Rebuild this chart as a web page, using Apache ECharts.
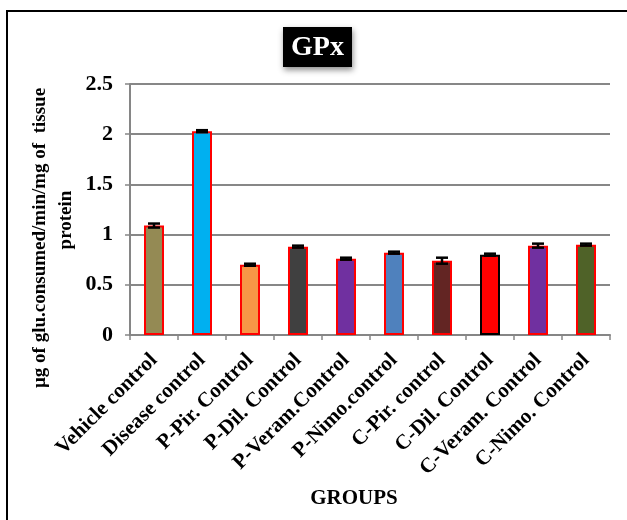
<!DOCTYPE html>
<html>
<head>
<meta charset="utf-8">
<script src="https://cdn.jsdelivr.net/npm/echarts@6/dist/echarts.min.js"></script>
<style>
  html, body { margin: 0; padding: 0; background: #fff; }
  #chart { width: 627px; height: 520px; }
</style>
</head>
<body>
<div id="chart"></div>
<script>
const groups = [
  'Vehicle control', 'Disease control', 'P-Pir. Control', 'P-Dil. Control', 'P-Veram.Control',
  'P-Nimo.control', 'C-Pir. control', 'C-Dil. Control', 'C-Veram. Control', 'C-Nimo. Control'
]
const gpxValues = [1.09, 2.03, 0.70, 0.88, 0.76, 0.82, 0.74, 0.80, 0.89, 0.90]
const gpxErrors = [0.02, 0.01, 0.01, 0.01, 0.01, 0.01, 0.03, 0.01, 0.02, 0.01]
const barColors = ['#948A54', '#00B0F0', '#F79646', '#404040', '#7030A0',
  '#4F81BD', '#632523', '#FF0000', '#7030A0', '#4F6228']
const borderColors = ['#FF0000', '#FF0000', '#FF0000', '#FF0000', '#FF0000',
  '#FF0000', '#FF0000', '#000000', '#FF0000', '#FF0000']
const yTicks = [0, 0.5, 1, 1.5, 2, 2.5]

const serif = '"Liberation Serif", "Times New Roman", serif'

const chart = echarts.init(document.getElementById('chart'))

const errorData = gpxValues.map((v, i) => [i, v - gpxErrors[i], v + gpxErrors[i]])

chart.setOption({
  animation: false,
  grid: { left: 130, right: 17, top: 84, bottom: 185 },
  graphic: [
    {
      type: 'rect',
      shape: { x: 7, y: 11, width: 640, height: 530 },
      style: { fill: 'none', stroke: '#000', lineWidth: 2 },
      silent: true
    },
    {
      type: 'rect',
      shape: { x: 283, y: 27, width: 69, height: 40 },
      style: {
        fill: '#000',
        shadowBlur: 6,
        shadowOffsetX: 1,
        shadowOffsetY: 3,
        shadowColor: 'rgba(0,0,0,0.45)'
      },
      z: 10
    },
    {
      type: 'text',
      x: 317.5,
      y: 48,
      style: {
        text: 'GPx',
        fill: '#fff',
        font: 'bold 28px ' + serif,
        align: 'center',
        verticalAlign: 'middle'
      },
      z: 11
    },
    {
      type: 'text',
      x: 40,
      y: 238,
      rotation: Math.PI / 2,
      style: {
        text: 'µg of glu.consumed/min/mg of  tissue',
        fill: '#000',
        font: 'bold 19px ' + serif,
        align: 'center',
        verticalAlign: 'middle'
      }
    },
    {
      type: 'text',
      x: 66,
      y: 220,
      rotation: Math.PI / 2,
      style: {
        text: 'protein',
        fill: '#000',
        font: 'bold 19px ' + serif,
        align: 'center',
        verticalAlign: 'middle'
      }
    },
    {
      type: 'text',
      x: 354,
      y: 499,
      style: {
        text: 'GROUPS',
        fill: '#000',
        font: 'bold 21px ' + serif,
        align: 'center',
        verticalAlign: 'middle'
      }
    }
  ],
  xAxis: {
    type: 'category',
    data: groups,
    axisLine: { lineStyle: { color: '#868686', width: 2 } },
    axisTick: { show: true, length: 5, lineStyle: { color: '#868686', width: 1.5 } },
    axisLabel: {
      interval: 0,
      rotate: 45,
      margin: 22,
      color: '#000',
      fontFamily: serif,
      fontWeight: 'bold',
      fontSize: 21
    }
  },
  yAxis: {
    type: 'value',
    min: 0,
    max: 2.5,
    interval: 0.5,
    axisLine: { show: true, lineStyle: { color: '#868686', width: 2 } },
    axisTick: { show: true, length: 5, lineStyle: { color: '#868686', width: 1.5 } },
    splitLine: { show: true, lineStyle: { color: '#878787', width: 2 } },
    axisLabel: {
      margin: 17,
      color: '#000',
      fontFamily: serif,
      fontWeight: 'bold',
      fontSize: 22,
      formatter: (v) => (yTicks.includes(v) ? String(v) : '')
    }
  },
  series: [
    {
      type: 'bar',
      barWidth: 20,
      data: gpxValues.map((v, i) => ({
        value: v,
        itemStyle: { color: barColors[i], borderColor: borderColors[i], borderWidth: 2 }
      }))
    },
    {
      type: 'custom',
      z: 5,
      data: errorData,
      renderItem: (params, api) => {
        const x = api.value(0)
        const low = api.coord([x, api.value(1)])
        const high = api.coord([x, api.value(2)])
        const half = 6
        const style = { stroke: '#000', lineWidth: 2.5 }
        return {
          type: 'group',
          children: [
            { type: 'line', shape: { x1: high[0], y1: high[1], x2: low[0], y2: low[1] }, style },
            { type: 'line', shape: { x1: high[0] - half, y1: high[1], x2: high[0] + half, y2: high[1] }, style },
            { type: 'line', shape: { x1: low[0] - half, y1: low[1], x2: low[0] + half, y2: low[1] }, style }
          ]
        }
      }
    }
  ]
})
</script>
</body>
</html>
